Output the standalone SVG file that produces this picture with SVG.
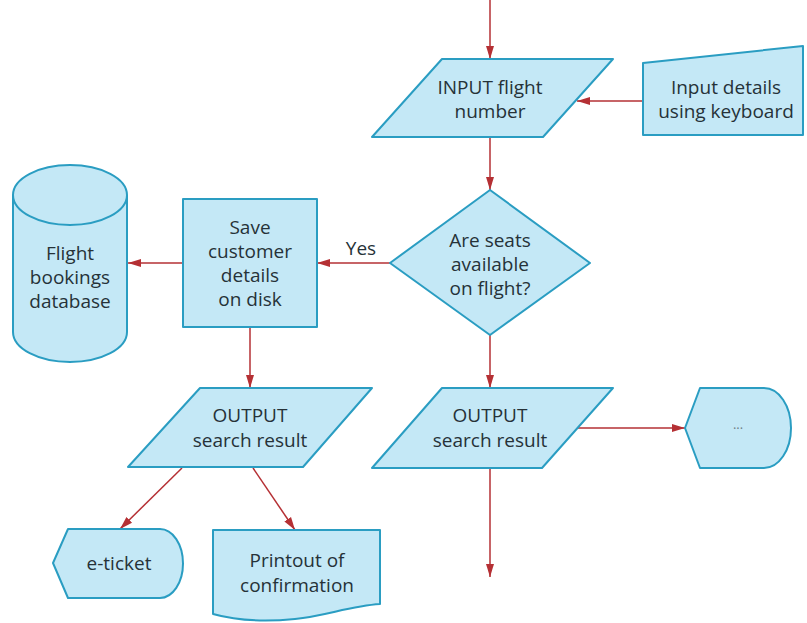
<svg xmlns="http://www.w3.org/2000/svg" width="807" height="623" viewBox="0 0 807 623">
<style>
.s{fill:#c4e8f6;stroke:#2a9dc2;stroke-width:2;stroke-linejoin:round}
.t{font-family:"Open Sans","Noto Sans","Liberation Sans",sans-serif;font-size:19px;fill:#263238;text-anchor:middle}
.c{fill:none;stroke:#b53034;stroke-width:1.5}
</style>
<defs>
<marker id="ah" markerUnits="userSpaceOnUse" markerWidth="14" markerHeight="10" refX="13" refY="5" orient="auto">
<path d="M0,1 L13,5 L0,9 Z" fill="#b53034"/>
</marker>
</defs>
<rect width="807" height="623" fill="#ffffff"/>
<g id="connectors">
<line class="c" x1="490" y1="0" x2="490" y2="59" marker-end="url(#ah)"/>
<line class="c" x1="643" y1="101" x2="577" y2="101" marker-end="url(#ah)"/>
<line class="c" x1="490" y1="137" x2="490" y2="190" marker-end="url(#ah)"/>
<line class="c" x1="390" y1="263" x2="317" y2="263" marker-end="url(#ah)"/>
<line class="c" x1="183" y1="263" x2="128" y2="263" marker-end="url(#ah)"/>
<line class="c" x1="250" y1="327" x2="250" y2="388" marker-end="url(#ah)"/>
<line class="c" x1="490" y1="335" x2="490" y2="388" marker-end="url(#ah)"/>
<line class="c" x1="577" y1="428" x2="685" y2="428" marker-end="url(#ah)"/>
<line class="c" x1="490" y1="468" x2="490" y2="577" marker-end="url(#ah)"/>
<line class="c" x1="182" y1="468" x2="120" y2="529" marker-end="url(#ah)"/>
<line class="c" x1="253" y1="468" x2="295" y2="530" marker-end="url(#ah)"/>
<text class="t" x="361" y="255">Yes</text>
</g>
<g id="input-flight">
<polygon class="s" points="442,59 613,59 543,137 372,137"/>
<text class="t" x="490" y="94">INPUT flight</text>
<text class="t" x="490" y="118">number</text>
</g>
<g id="manual-input">
<polygon class="s" points="643,63 803,46 803,135 643,135"/>
<text class="t" x="726" y="94">Input details</text>
<text class="t" x="726" y="118">using keyboard</text>
</g>
<g id="decision">
<polygon class="s" points="490,190 590,263 490,335 390,263"/>
<text class="t" x="490" y="247">Are seats</text>
<text class="t" x="490" y="271">available</text>
<text class="t" x="490" y="295">on flight?</text>
</g>
<g id="save">
<rect class="s" x="183" y="199" width="134" height="128"/>
<text class="t" x="250" y="234">Save</text>
<text class="t" x="250" y="258">customer</text>
<text class="t" x="250" y="282">details</text>
<text class="t" x="250" y="306">on disk</text>
</g>
<g id="database">
<path class="s" d="M13,195 L13,332 A57,30 0 0 0 127,332 L127,195"/>
<ellipse class="s" cx="70" cy="195" rx="57" ry="30"/>
<text class="t" x="70" y="260">Flight</text>
<text class="t" x="70" y="284">bookings</text>
<text class="t" x="70" y="308">database</text>
</g>
<g id="output-left">
<polygon class="s" points="200,388 372,388 303,467 128,467"/>
<text class="t" x="250" y="422">OUTPUT</text>
<text class="t" x="250" y="447">search result</text>
</g>
<g id="output-right">
<polygon class="s" points="442,388 613,388 542,468 372,468"/>
<text class="t" x="490" y="422">OUTPUT</text>
<text class="t" x="490" y="447">search result</text>
</g>
<g id="display">
<path class="s" d="M685,428 L700,388 L764,388 A27,40 0 0 1 764,468 L700,468 Z"/>
<text class="t" x="738" y="429" style="font-size:13px;fill:#6f7f88">...</text>
</g>
<g id="e-ticket">
<path class="s" d="M53,563 L68,529 L160,529 A23,34.5 0 0 1 160,598 L68,598 Z"/>
<text class="t" x="119" y="570">e-ticket</text>
</g>
<g id="printout">
<path class="s" d="M213,530 L380,530 L380,604 C350,606 325,616 295,619 C265,622 238,621 213,614 Z"/>
<text class="t" x="297" y="567">Printout of</text>
<text class="t" x="297" y="592">confirmation</text>
</g>
</svg>
